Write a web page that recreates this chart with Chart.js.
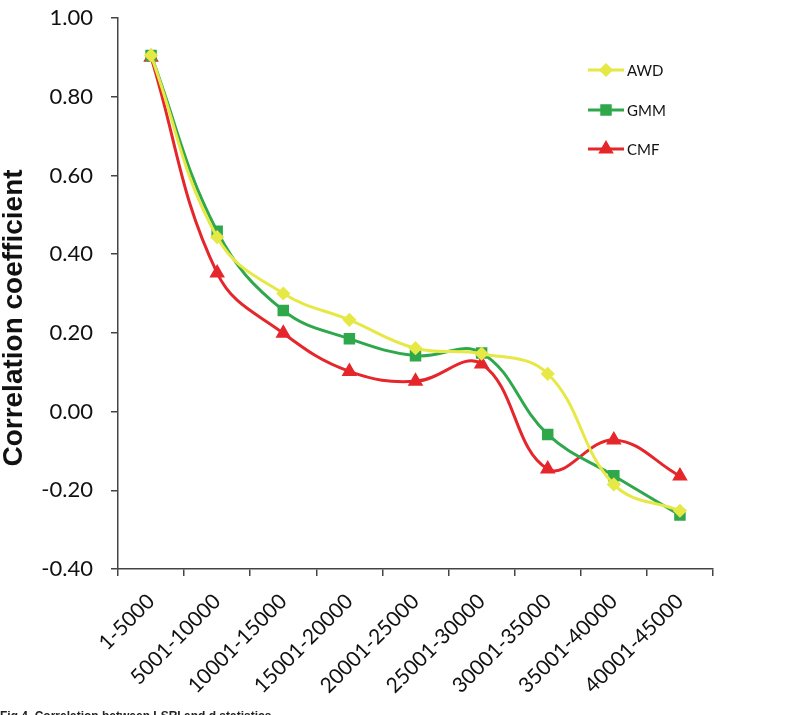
<!DOCTYPE html>
<html>
<head>
<meta charset="utf-8">
<script src="https://cdn.jsdelivr.net/npm/chart.js@4.4.0/dist/chart.umd.min.js"></script>
<style>
  html, body { margin: 0; padding: 0; background: #fff; overflow: hidden; }
  #wrap { position: relative; width: 798px; height: 715px; }
  #caption { position: absolute; left: 0; top: 709px; font: bold 12px "Liberation Sans", Arial, sans-serif; color: #222; white-space: nowrap; }
</style>
</head>
<body>
<div id="wrap">
  <canvas id="lineChart" width="798" height="715"></canvas>
  <div id="caption">Fig 4. Correlation between LSRI and d statistics</div>
</div>
<script>
var categories = ['1-5000', '5001-10000', '10001-15000', '15001-20000', '20001-25000',
                  '25001-30000', '30001-35000', '35001-40000', '40001-45000'];
var awd = [0.905, 0.443, 0.300, 0.233, 0.161, 0.147, 0.096, -0.185, -0.252];
var gmm = [0.905, 0.458, 0.257, 0.185, 0.142, 0.149, -0.058, -0.163, -0.263];
var cmf = [0.900, 0.352, 0.199, 0.102, 0.077, 0.121, -0.146, -0.072, -0.164];
var yTicks = [-0.40, -0.20, 0.00, 0.20, 0.40, 0.60, 0.80, 1.00];
var yTitle = 'Correlation coefficient';

// legend drawn inside the plot, Excel style (line + marker + name)
var sideLegend = {
    id: 'sideLegend',
    afterDraw: function(chart) {
        var ctx = chart.ctx;
        var x0 = 588, x1 = 624, ys = [70, 110, 149];
        chart.data.datasets.forEach(function(ds, i) {
            var y = ys[i];
            ctx.save();
            ctx.strokeStyle = ds.borderColor;
            ctx.lineWidth = 3;
            ctx.beginPath();
            ctx.moveTo(x0, y);
            ctx.lineTo(x1, y);
            ctx.stroke();
            ctx.fillStyle = ds.borderColor;
            Chart.helpers.drawPoint(ctx, {
                pointStyle: ds.pointStyle, radius: ds.pointRadius, rotation: 0, borderWidth: 1
            }, (x0 + x1) / 2, y);
            ctx.fillStyle = '#111';
            ctx.font = '15px Lato, "Open Sans", sans-serif';
            ctx.textBaseline = 'middle';
            ctx.fillText(ds.label, x1 + 3, y + 1);
            ctx.restore();
        });
    }
};

// y axis title, sits a bit below the middle like the original
var yTitlePlugin = {
    id: 'yTitlePlugin',
    afterDraw: function(chart) {
        var ctx = chart.ctx;
        ctx.save();
        ctx.translate(14, 318);
        ctx.rotate(-Math.PI / 2);
        ctx.fillStyle = '#111';
        ctx.font = 'bold 28px "Liberation Sans", Arial, sans-serif';
        ctx.textAlign = 'center';
        ctx.textBaseline = 'middle';
        ctx.fillText(yTitle, 0, 0);
        ctx.restore();
    }
};

var ctx = document.getElementById('lineChart');
var chart = new Chart(ctx.getContext('2d'), {
    type: 'line',
    data: {
        labels: categories,
        datasets: [{
            label: 'AWD',
            data: awd,
            borderColor: '#e6e845',
            backgroundColor: '#e6e845',
            pointStyle: 'rectRot',
            pointRadius: 5,
            borderWidth: 3,
            tension: 0.4
        }, {
            label: 'GMM',
            data: gmm,
            borderColor: '#2fa84c',
            backgroundColor: '#2fa84c',
            pointStyle: 'rect',
            pointRadius: 6,
            borderWidth: 3,
            tension: 0.4
        }, {
            label: 'CMF',
            data: cmf,
            borderColor: '#e5262b',
            backgroundColor: '#e5262b',
            pointStyle: 'triangle',
            pointRadius: 6,
            borderWidth: 3,
            tension: 0.4
        }]
    },
    options: {
        responsive: false,
        animation: false,
        layout: { padding: { top: 8, right: 85, left: 0, bottom: 0 } },
        plugins: {
            legend: { display: false },
            tooltip: { enabled: false }
        },
        scales: {
            x: {
                offset: true,
                grid: { display: true, offset: true, drawOnChartArea: false, drawTicks: true, tickLength: 7, color: '#444', lineWidth: 1.5 },
                border: { color: '#444', width: 1.5 },
                ticks: {
                    color: '#111',
                    font: { family: 'Lato, "Open Sans", sans-serif', size: 21 },
                    minRotation: 45,
                    maxRotation: 45,
                    padding: 13
                },
                afterFit: function(scale) { scale.height = 146; }
            },
            y: {
                min: -0.4,
                max: 1.0,
                afterBuildTicks: function(scale) {
                    scale.ticks = yTicks.map(function(v) { return { value: v }; });
                },
                grid: { display: true, drawOnChartArea: false, drawTicks: true, tickLength: 7, color: '#444', lineWidth: 1.5 },
                border: { color: '#444', width: 1.5 },
                ticks: {
                    color: '#111',
                    font: { family: 'Lato, "Open Sans", sans-serif', size: 22 },
                    padding: 18,
                    callback: function(v) { return Number(v).toFixed(2); }
                },
                afterFit: function(scale) {
                    scale.width = 118;
                    scale.paddingTop = 18;
                    scale.paddingBottom = 0;
                }
            }
        }
    },
    plugins: [sideLegend, yTitlePlugin]
});
</script>
</body>
</html>
